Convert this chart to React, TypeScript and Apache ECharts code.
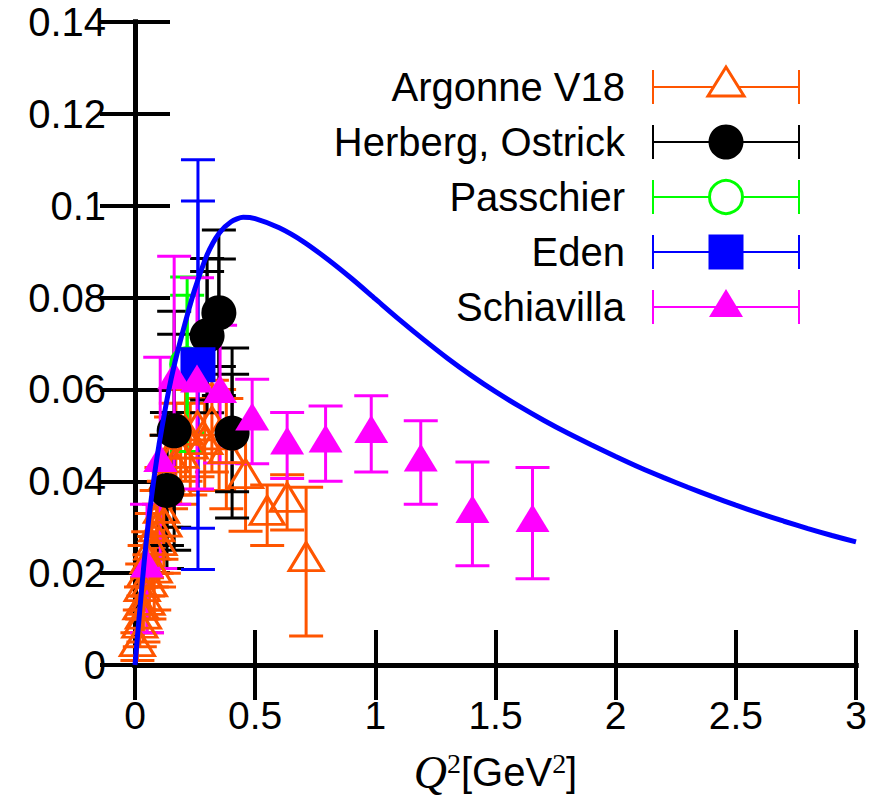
import React, { useEffect, useRef } from 'react';
import * as echarts from 'echarts';

// ---------- data ----------
const curveQ2 = [0, 0.02, 0.04, 0.06, 0.08, 0.1, 0.125, 0.15, 0.175, 0.2, 0.225, 0.25, 0.3, 0.35, 0.4, 0.45, 0.5, 0.6, 0.7, 0.8, 0.9, 1.0, 1.1, 1.2, 1.3, 1.4, 1.5, 1.6, 1.7, 1.8, 1.9, 2.0, 2.1, 2.2, 2.3, 2.4, 2.5, 2.6, 2.7, 2.8, 2.9, 3.0];
const curveVal = [0, 0.012, 0.0235, 0.033, 0.041, 0.048, 0.0555, 0.0622, 0.0678, 0.0728, 0.0776, 0.082, 0.0893, 0.094, 0.0965, 0.0975, 0.0972, 0.0952, 0.0922, 0.0884, 0.0842, 0.0797, 0.0752, 0.0709, 0.0668, 0.063, 0.0595, 0.0563, 0.0533, 0.0505, 0.0479, 0.0454, 0.043, 0.0408, 0.0387, 0.0367, 0.0348, 0.033, 0.0313, 0.0297, 0.0282, 0.0268];

const argonneQ2 = [0.01, 0.02, 0.025, 0.03, 0.035, 0.04, 0.05, 0.055, 0.06, 0.07, 0.08, 0.09, 0.1, 0.11, 0.12, 0.13, 0.15, 0.17, 0.19, 0.21, 0.23, 0.26, 0.29, 0.32, 0.35, 0.38, 0.46, 0.55, 0.633, 0.712];
const argonneVal = [0.004, 0.008, 0.012, 0.016, 0.010, 0.019, 0.013, 0.022, 0.017, 0.025, 0.020, 0.029, 0.026, 0.033, 0.030, 0.040, 0.044, 0.047, 0.045, 0.050, 0.047, 0.051, 0.048, 0.052, 0.049, 0.046, 0.0406, 0.0326, 0.0354, 0.0225];
const argonneErr = [0.003, 0.004, 0.005, 0.006, 0.005, 0.007, 0.006, 0.007, 0.007, 0.008, 0.008, 0.009, 0.009, 0.010, 0.010, 0.010, 0.010, 0.010, 0.010, 0.010, 0.010, 0.010, 0.010, 0.010, 0.011, 0.012, 0.0115, 0.0066, 0.006, 0.0162];

const herbergQ2 = [0.133, 0.163, 0.30, 0.349, 0.404];
const herbergVal = [0.038, 0.051, 0.0717, 0.0767, 0.0505];
const herbergErrA = [0.012, 0.021, 0.014, 0.0117, 0.0128];
const herbergErrB = [0.017, 0.026, 0.0168, 0.018, 0.0185];

const passchierQ2 = [0.217];
const passchierVal = [0.0655];
const passchierErrA = [0.015];
const passchierErrB = [0.019];

const edenQ2 = [0.262];
const edenVal = [0.0654];
const edenErrA = [0.0356];
const edenErrB = [0.0446];

const schiavillaQ2 = [0.05, 0.105, 0.163, 0.258, 0.354, 0.4875, 0.633, 0.793, 0.983, 1.189, 1.404, 1.654];
const schiavillaVal = [0.021, 0.044, 0.062, 0.0613, 0.059, 0.053, 0.0478, 0.0482, 0.0503, 0.0441, 0.0329, 0.0309];
const schiavillaErr = [0.014, 0.023, 0.027, 0.023, 0.015, 0.0092, 0.0072, 0.0082, 0.0083, 0.0091, 0.0113, 0.0121];

const xTicks = [0, 0.5, 1, 1.5, 2, 2.5, 3];
const yTicks = [0, 0.02, 0.04, 0.06, 0.08, 0.1, 0.12, 0.14];

const legendNames = ['Argonne V18', 'Herberg, Ostrick', 'Passchier', 'Eden', 'Schiavilla'];

const ORANGE = '#ff5500';
const BLACK = '#000000';
const GREEN = '#00ff00';
const BLUE = '#0000ff';
const MAGENTA = '#ff00ff';
const legendColors = [ORANGE, BLACK, GREEN, BLUE, MAGENTA];

const FONT = 'Liberation Sans';

function errSeries(name: string, data: number[][], color: string) {
  return {
    type: 'custom',
    name,
    clip: false,
    silent: true,
    encode: { x: 0, y: 1 },
    data,
    renderItem: (params: any, api: any) => {
      const x = api.value(0);
      const y = api.value(1);
      const e = api.value(2);
      const t = api.coord([x, y + e]);
      const b = api.coord([x, y - e]);
      const style = { stroke: color, lineWidth: 3, fill: null };
      const h = 17;
      return {
        type: 'group',
        children: [
          { type: 'line', shape: { x1: t[0], y1: t[1], x2: b[0], y2: b[1] }, style },
          { type: 'line', shape: { x1: t[0] - h, y1: t[1], x2: t[0] + h, y2: t[1] }, style },
          { type: 'line', shape: { x1: b[0] - h, y1: b[1], x2: b[0] + h, y2: b[1] }, style },
        ],
      };
    },
    z: 3,
  };
}

function pts(q: number[], v: number[], e?: number[]) {
  return q.map((x, i) => (e ? [x, v[i], e[i]] : [x, v[i]]));
}

function buildLegend() {
  const els: any[] = [];
  const x0 = 653, x1 = 799, xm = 726;
  legendNames.forEach((name, i) => {
    const y = 87 + 55 * i;
    const c = legendColors[i];
    els.push({
      type: 'text',
      x: 625,
      y,
      style: { text: name, fontSize: 40, fontFamily: FONT, fill: '#000', align: 'right', verticalAlign: 'middle' },
      z: 100,
    });
    const ls = { stroke: c, lineWidth: 2 };
    els.push({ type: 'line', shape: { x1: x0, y1: y, x2: x1, y2: y }, style: ls, z: 100 });
    els.push({ type: 'line', shape: { x1: x0, y1: y - 17, x2: x0, y2: y + 17 }, style: ls, z: 100 });
    els.push({ type: 'line', shape: { x1: x1, y1: y - 17, x2: x1, y2: y + 17 }, style: ls, z: 100 });
    if (i === 0) {
      els.push({ type: 'polygon', shape: { points: [[xm, y - 20], [xm - 18, y + 9], [xm + 18, y + 9]] }, style: { fill: '#fff', stroke: c, lineWidth: 3 }, z: 101 });
    } else if (i === 1) {
      els.push({ type: 'circle', shape: { cx: xm, cy: y, r: 17.5 }, style: { fill: c }, z: 101 });
    } else if (i === 2) {
      els.push({ type: 'circle', shape: { cx: xm, cy: y, r: 16.5 }, style: { fill: '#fff', stroke: c, lineWidth: 3 }, z: 101 });
    } else if (i === 3) {
      els.push({ type: 'rect', shape: { x: xm - 17.5, y: y - 17.5, width: 35, height: 35 }, style: { fill: c }, z: 101 });
    } else {
      els.push({ type: 'polygon', shape: { points: [[xm, y - 18], [xm - 17, y + 10], [xm + 17, y + 10]] }, style: { fill: c }, z: 101 });
    }
  });
  return els;
}

export default function App() {
  const ref = useRef<HTMLDivElement>(null);
  useEffect(() => {
    if (!ref.current) return;
    const chart = echarts.init(ref.current, undefined, { renderer: 'svg' });
    const axisLine = { show: true, lineStyle: { color: '#000', width: 5, cap: 'square' } };
    const tick = { show: true, inside: true, length: 35, lineStyle: { color: '#000', width: 4 } };
    const option: any = {
      animation: false,
      backgroundColor: '#fff',
      textStyle: { fontFamily: FONT },
      grid: { left: 135, right: 32, top: 22, bottom: 138, containLabel: false, outerBoundsMode: 'none' },
      xAxis: [
        {
          type: 'value', min: 0, max: 3, interval: 0.5, position: 'bottom',
          axisLine, axisTick: tick, splitLine: { show: false },
          axisLabel: { fontSize: 39, color: '#000', margin: 30, fontFamily: FONT, lineHeight: 40 },
          name: '{q|Q}{s|2}{t|[GeV}{s|2}{t|]}',
          nameLocation: 'middle',
          nameGap: 84,
          nameTextStyle: {
            rich: {
              q: { fontFamily: 'Liberation Serif', fontStyle: 'italic', fontSize: 46, color: '#000' },
              s: { fontFamily: 'Liberation Serif', fontSize: 28, color: '#000', verticalAlign: 'top' },
              t: { fontFamily: FONT, fontSize: 40, color: '#000' },
            },
          },
        },
        {
          type: 'value', min: 0, max: 3, interval: 0.5, position: 'top',
          axisLine, axisTick: tick, splitLine: { show: false }, axisLabel: { show: false },
        },
      ],
      yAxis: [
        {
          type: 'value', min: 0, max: 0.14, interval: 0.02, position: 'left',
          axisLine, axisTick: tick, splitLine: { show: false },
          axisLabel: { fontSize: 40, color: '#000', margin: 29, fontFamily: FONT, lineHeight: 40 },
        },
        {
          type: 'value', min: 0, max: 0.14, interval: 0.02, position: 'right',
          axisLine, axisTick: tick, splitLine: { show: false }, axisLabel: { show: false },
        },
      ],
      series: [
        errSeries('Argonne V18 err', pts(argonneQ2, argonneVal, argonneErr), ORANGE),
        {
          type: 'scatter', name: 'Argonne V18', data: pts(argonneQ2, argonneVal),
          symbol: 'triangle', symbolSize: [34, 28], symbolOffset: [0, -5],
          itemStyle: { color: 'transparent', borderColor: ORANGE, borderWidth: 3, opacity: 1 }, z: 3,
        },
        errSeries('Herberg err A', pts(herbergQ2, herbergVal, herbergErrA), BLACK),
        errSeries('Herberg err B', pts(herbergQ2, herbergVal, herbergErrB), BLACK),
        {
          type: 'scatter', name: 'Herberg, Ostrick', data: pts(herbergQ2, herbergVal),
          symbol: 'circle', symbolSize: 35, itemStyle: { color: BLACK, opacity: 1 }, z: 3,
        },
        errSeries('Passchier err A', pts(passchierQ2, passchierVal, passchierErrA), GREEN),
        errSeries('Passchier err B', pts(passchierQ2, passchierVal, passchierErrB), GREEN),
        {
          type: 'scatter', name: 'Passchier', data: pts(passchierQ2, passchierVal),
          symbol: 'circle', symbolSize: 33,
          itemStyle: { color: 'transparent', borderColor: GREEN, borderWidth: 3, opacity: 1 }, z: 3,
        },
        errSeries('Eden err A', pts(edenQ2, edenVal, edenErrA), BLUE),
        errSeries('Eden err B', pts(edenQ2, edenVal, edenErrB), BLUE),
        {
          type: 'scatter', name: 'Eden', data: pts(edenQ2, edenVal),
          symbol: 'rect', symbolSize: 35, itemStyle: { color: BLUE, opacity: 1 }, z: 3,
        },
        errSeries('Schiavilla err', pts(schiavillaQ2, schiavillaVal, schiavillaErr), MAGENTA),
        {
          type: 'scatter', name: 'Schiavilla', data: pts(schiavillaQ2, schiavillaVal),
          symbol: 'triangle', symbolSize: [34, 28], symbolOffset: [0, -5],
          itemStyle: { color: MAGENTA, opacity: 1 }, z: 3,
        },
        {
          type: 'line', name: 'theory', data: pts(curveQ2, curveVal),
          showSymbol: false, smooth: 0.25, lineStyle: { color: BLUE, width: 5 }, z: 4,
        },
      ],
      graphic: buildLegend(),
    };
    chart.setOption(option);
    return () => chart.dispose();
  }, []);
  return (
    <div
      ref={ref}
      style={{ position: 'fixed', left: 0, top: 0, width: 888, height: 803, background: '#fff' }}
    />
  );
}
